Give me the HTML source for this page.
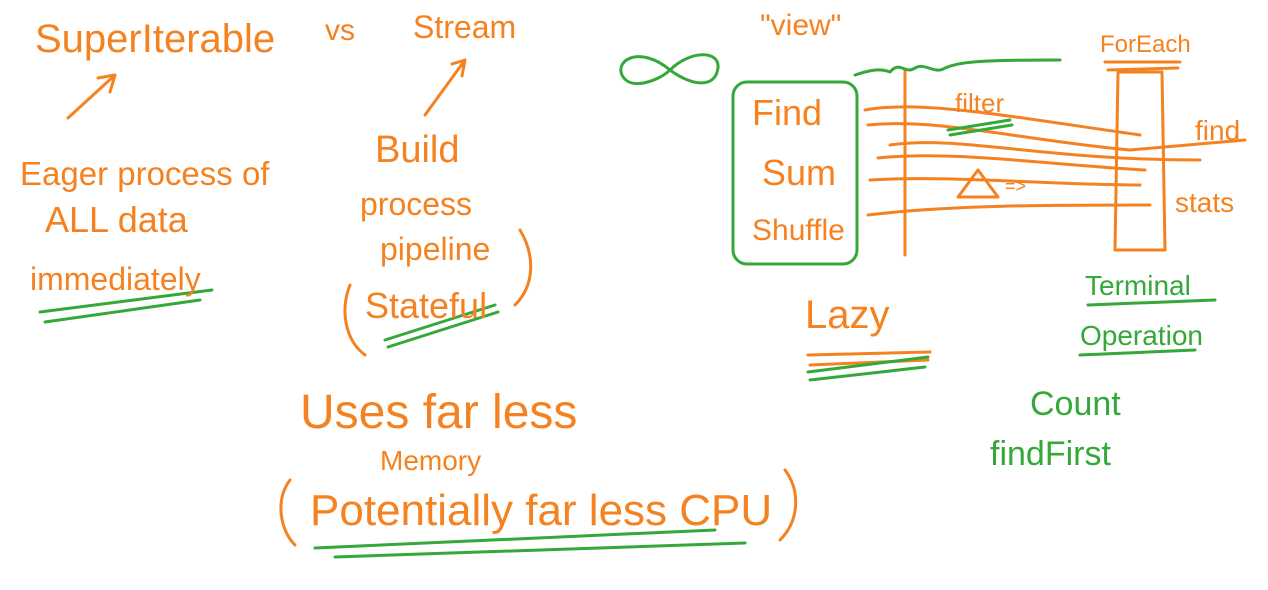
<!DOCTYPE html>
<html><head><meta charset="utf-8"><style>
html,body{margin:0;padding:0;background:#fff;}
svg{display:block}
text{font-family:"Liberation Sans",sans-serif;}
.o{fill:#f58220}.g{fill:#35a83a}
</style></head><body>
<svg width="1268" height="590" viewBox="0 0 1268 590" xmlns="http://www.w3.org/2000/svg">
<g fill="none" stroke="#f58220" stroke-width="3" stroke-linecap="round" stroke-linejoin="round">
<path d="M68 118 L115 75 M98 78 L115 75 L110 92"/>
<path d="M425 115 L465 60 M452 64 L465 60 L462 76"/>
<path d="M905 70 L905 255"/>
<path d="M1118 72 L1162 72 L1165 250 L1115 250 L1118 72"/>
<path d="M1105 62 L1180 62 M1108 70 L1178 68"/>
<path d="M865 110 C920 100 1000 115 1140 135"/>
<path d="M868 125 C940 118 1020 140 1130 150 L1245 140"/>
<path d="M878 158 C950 150 1050 165 1145 170"/>
<path d="M870 180 C950 175 1050 185 1140 185"/>
<path d="M868 215 C950 205 1050 205 1150 205"/>
<path d="M890 145 C960 135 1040 160 1200 160"/>
<path d="M958 197 L978 170 L998 197 Z"/>
<path d="M808 355 L930 352 M810 365 L928 360"/>
<path d="M350 285 C340 310 345 340 365 355"/>
<path d="M520 230 C535 255 535 285 515 305"/>
<path d="M290 480 C275 500 280 530 295 545"/>
<path d="M785 470 C800 490 800 520 780 540"/>
</g>
<g fill="none" stroke="#35a83a" stroke-width="3" stroke-linecap="round" stroke-linejoin="round">
<path d="M670 70 C640 45 615 60 622 75 C630 92 660 80 670 70 C690 50 720 50 718 68 C715 90 690 85 670 70"/>
<rect x="733" y="82" width="124" height="182" rx="14"/>
<path d="M855 75 C870 70 880 68 890 72 C900 60 905 75 915 68 C925 62 935 75 945 68 C960 62 975 60 1060 60"/>
<path d="M950 135 L1012 125 M948 130 L1010 120"/>
<path d="M40 312 L212 290 M45 322 L200 300"/>
<path d="M385 340 L495 305 M388 347 L498 312"/>
<path d="M315 548 L715 530 M335 557 L745 543"/>
<path d="M808 372 L928 357 M810 380 L925 367"/>
<path d="M1088 305 L1215 300 M1080 355 L1195 350"/>
</g>
<text class="o" x="35" y="52" font-size="40">SuperIterable</text>
<text class="o" x="325" y="40" font-size="30">vs</text>
<text class="o" x="413" y="38" font-size="32">Stream</text>
<text class="o" x="760" y="35" font-size="30">"view"</text>
<text class="o" x="1100" y="52" font-size="24">ForEach</text>
<text class="o" x="20" y="185" font-size="33">Eager process of</text>
<text class="o" x="45" y="232" font-size="36">ALL data</text>
<text class="o" x="30" y="290" font-size="32">immediately</text>
<text class="o" x="375" y="162" font-size="38">Build</text>
<text class="o" x="360" y="215" font-size="32">process</text>
<text class="o" x="380" y="260" font-size="32">pipeline</text>
<text class="o" x="365" y="318" font-size="36">Stateful</text>
<text class="o" x="300" y="428" font-size="48">Uses far less</text>
<text class="o" x="380" y="470" font-size="28">Memory</text>
<text class="o" x="310" y="525" font-size="44">Potentially far less CPU</text>
<text class="o" x="752" y="125" font-size="36">Find</text>
<text class="o" x="762" y="185" font-size="36">Sum</text>
<text class="o" x="752" y="240" font-size="30">Shuffle</text>
<text class="o" x="955" y="112" font-size="26">filter</text>
<text class="o" x="1195" y="140" font-size="28">find</text>
<text class="o" x="1175" y="212" font-size="28">stats</text>
<text class="o" x="805" y="328" font-size="40">Lazy</text>
<text class="o" x="1005" y="192" font-size="18">=&gt;</text>
<text class="g" x="1085" y="295" font-size="28">Terminal</text>
<text class="g" x="1080" y="345" font-size="28">Operation</text>
<text class="g" x="1030" y="415" font-size="34">Count</text>
<text class="g" x="990" y="465" font-size="34">findFirst</text>
</svg>
</body></html>
